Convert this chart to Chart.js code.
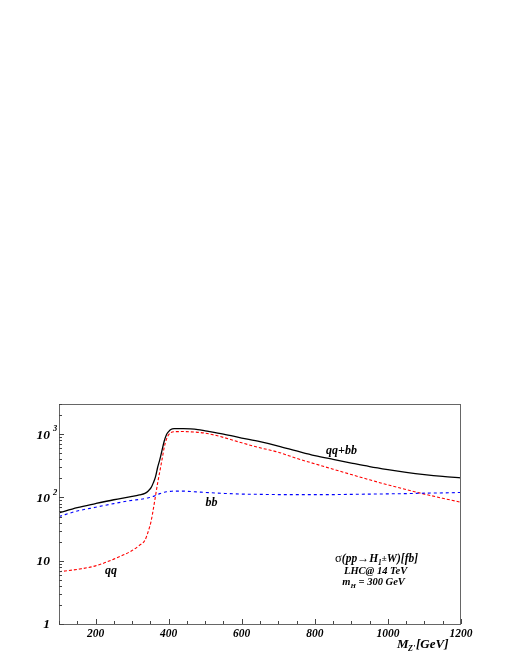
<!DOCTYPE html>
<html><head><meta charset="utf-8">
<script src="https://cdn.jsdelivr.net/npm/chart.js@4.4.1/dist/chart.umd.min.js"></script>
<style>html,body{margin:0;padding:0;background:#fff;}canvas{display:block;}</style>
</head><body>
<canvas id="c" width="510" height="660"></canvas>
<script>
// M_Z' in GeV
const massGeV = [100,150,200,250,300,320,335,345,352,358,364,370,376,382,388,394,400,406,415,440,460,480,500,550,600,650,700,750,800,850,900,950,1000,1050,1100,1150,1200];
// qq contribution [fb]
const sigmaQQ = [6.7,7.3,8.3,10.6,14.5,17.5,21,30,42,65,105,170,260,400,620,830,980,1060,1095,1100,1090,1070,1040,890,730,610,520,415,340,280,230,190,158,133,113,97,84];
// bb contribution [fb]
const sigmaBB = [50,61,70,80,90,93,96,99,101,104,107,111,115,118,121,123,124,125,126,126,124,122,120,116,113,112,111,111,111,111,112,113,114,115,117,118,120];
// qq+bb total [fb]
const sigmaTotal = [57,69,80,92,104,110,116,128,143,170,212,300,400,560,780,980,1100,1185,1220,1225,1215,1185,1130,1000,870,760,650,545,460,400,350,308,276,250,230,215,204];

const xTickLabels = [200,400,600,800,1000,1200];
const yTickValues = [1,10,100,1000];
const yTickBase = ['1','10','10','10'];
const yTickExp = ['','','2','3'];
const curveLabels = ['qq+bb','bb','qq'];
const curveLabelAt = [[873,553],[517,82],[242,7.0]];

const BI = (s)=>'bold italic '+s+'px "Liberation Serif", "Times New Roman", serif';
const RG = (s)=>s+'px "Liberation Serif", "Times New Roman", serif';

function pts(ys){ return massGeV.map((m,i)=>({x:m,y:ys[i]})); }

function drawRich(ctx, segs, cx, cy){
  let w=0; segs.forEach(s=>{ctx.font=s[1]; w+=ctx.measureText(s[0]).width;});
  let x=cx-w/2;
  ctx.textAlign='left'; ctx.textBaseline='alphabetic';
  segs.forEach(s=>{ctx.font=s[1]; ctx.fillText(s[0],x,cy+(s[2]||0)); x+=ctx.measureText(s[0]).width;});
}

const decor = {
  id:'decor',
  afterDatasetsDraw(chart){
    const {ctx, chartArea:a, scales:{x,y}} = chart;
    ctx.save();
    ctx.strokeStyle='#666'; ctx.lineWidth=1;
    ctx.strokeRect(a.left+0.5, a.top+0.5, a.right-a.left-1, a.bottom-a.top);
    ctx.strokeStyle='#444';
    ctx.beginPath();
    for(let v=100; v<=1200; v+=50){
      const px=Math.round(x.getPixelForValue(v))+0.5;
      const len=(v%200===0)?5:3;
      ctx.moveTo(px,a.bottom); ctx.lineTo(px,a.bottom-len);
    }
    for(let d=0; d<=3; d++){
      for(let m=1;m<=9;m++){
        const v=m*Math.pow(10,d);
        if(v>y.max) break;
        const py=Math.round(y.getPixelForValue(v))+0.5;
        const len=(m===1)?5:3;
        ctx.moveTo(a.left,py); ctx.lineTo(a.left+len,py);
      }
    }
    ctx.stroke();
    ctx.fillStyle='#000';
    ctx.font=BI(11.5); ctx.textAlign='center'; ctx.textBaseline='middle';
    xTickLabels.forEach(v=>{ ctx.fillText(String(v), x.getPixelForValue(v), a.bottom+10); });
    yTickValues.forEach((v,i)=>{
      const py=y.getPixelForValue(v);
      ctx.font=BI(13.5); ctx.textAlign='right'; ctx.textBaseline='middle';
      ctx.fillText(yTickBase[i], a.left-9, py+1);
      if(yTickExp[i]){
        ctx.font=BI(8.5); ctx.textAlign='left';
        ctx.fillText(yTickExp[i], a.left-6, py-5);
      }
    });
    ctx.textAlign='left'; ctx.textBaseline='alphabetic';
    ctx.font=BI(13); ctx.fillText('M', a.right-64, a.bottom+24);
    ctx.font=BI(8); ctx.fillText("Z'", a.right-53, a.bottom+27);
    ctx.font=BI(13); ctx.fillText('[GeV]', a.right-45, a.bottom+24);
    ctx.font=BI(12); ctx.textAlign='center'; ctx.textBaseline='middle';
    curveLabels.forEach((t,i)=>{
      ctx.fillText(t, x.getPixelForValue(curveLabelAt[i][0]), y.getPixelForValue(curveLabelAt[i][1]));
    });
    const ax = x.getPixelForValue(969), ay = y.getPixelForValue(11.2);
    drawRich(ctx, [['σ',RG(12.5)],['(pp',BI(11.5)],['→',RG(12)],['H',BI(11.5)],['1',BI(7.5),3],['±',BI(9),-1],['W)[fb]',BI(11.5)]], ax, ay+4);
    drawRich(ctx, [['LHC@ 14 TeV',BI(10.5)]], ax-1, ay+16);
    drawRich(ctx, [['m',BI(10.5)],['H',BI(7),3],[' = 300 GeV',BI(10.5)]], ax-3, ay+27);
    ctx.restore();
  }
};

new Chart(document.getElementById('c'), {
  type:'line',
  data:{ datasets:[
    {label:'qq+bb', data:pts(sigmaTotal), borderColor:'#000', borderWidth:1.3, pointRadius:0, cubicInterpolationMode:'monotone', fill:false},
    {label:'bb', data:pts(sigmaBB), borderColor:'#0000ff', borderWidth:1.1, borderDash:[3,3], pointRadius:0, cubicInterpolationMode:'monotone', fill:false},
    {label:'qq', data:pts(sigmaQQ), borderColor:'#ff0000', borderWidth:1.1, borderDash:[3,2], pointRadius:0, cubicInterpolationMode:'monotone', fill:false}
  ]},
  options:{
    responsive:false, animation:false, devicePixelRatio:1,
    layout:{padding:{left:59, top:404, right:49, bottom:36}},
    plugins:{legend:{display:false}, tooltip:{enabled:false}},
    scales:{
      x:{type:'linear', min:100, max:1200, display:false},
      y:{type:'logarithmic', min:1, max:3000, display:false}
    }
  },
  plugins:[decor]
});
</script>
</body></html>
